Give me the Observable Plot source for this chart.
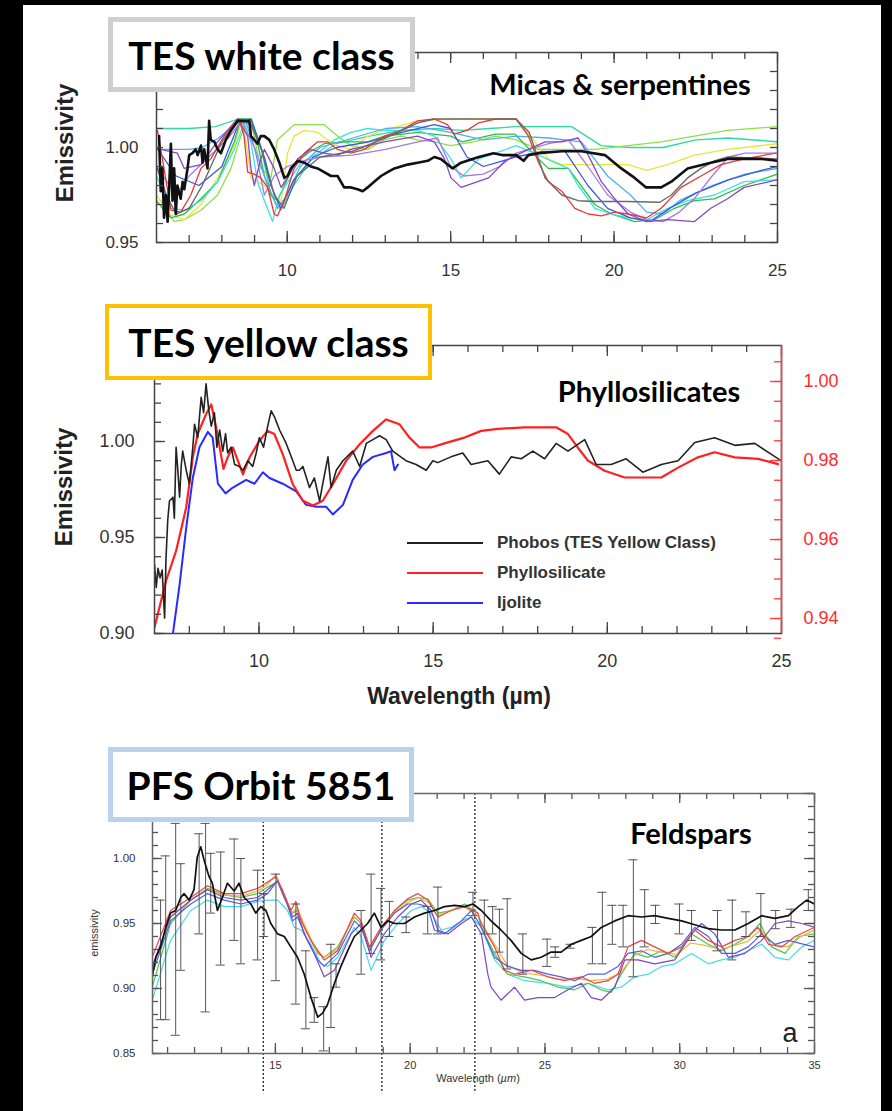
<!DOCTYPE html>
<html><head><meta charset="utf-8">
<script src="https://cdn.jsdelivr.net/npm/d3@7"></script>
<script src="https://cdn.jsdelivr.net/npm/@observablehq/plot@0.6"></script>
<style>
html,body{margin:0;padding:0;}
body{background:#000;width:892px;height:1111px;overflow:hidden;position:relative;font-family:"Liberation Sans",Arial,sans-serif;}
#sheet{position:absolute;left:23px;top:5px;width:858px;height:1106px;background:#fff;}
.panel{position:absolute;left:0;}
.panel svg{display:block;overflow:visible;}
.box{position:absolute;background:#fff;display:flex;align-items:center;justify-content:center;font-family:Lato,"Open Sans",sans-serif;font-weight:700;font-size:39px;color:#000;box-sizing:border-box;white-space:nowrap;}
.note{position:absolute;font-family:Lato,"Open Sans",sans-serif;font-weight:700;color:#000;white-space:nowrap;transform:translate(-50%,-50%);}
.ylab{position:absolute;font-weight:700;font-size:24px;color:#222;white-space:nowrap;transform:translate(-50%,-50%) rotate(-90deg);}
.xlab{position:absolute;font-weight:700;font-size:23px;color:#222;white-space:nowrap;transform:translate(-50%,-50%);}
.leg{position:absolute;font-weight:700;font-size:17px;color:#333;white-space:nowrap;}
.legline{position:absolute;height:0;width:76px;}
</style></head>
<body>
<div id="sheet"></div>
<div id="p1" class="panel" style="top:0px"></div>
<div id="p2" class="panel" style="top:290px"></div>
<div id="p3" class="panel" style="top:720px"></div>

<div class="box" style="left:108px;top:17px;width:307px;height:75px;border:5px solid #cfcfcf;">TES white class</div>
<div class="box" style="left:105px;top:304px;width:327px;height:76px;border:4px solid #ffc000;">TES yellow class</div>
<div class="box" style="left:108px;top:747px;width:306px;height:75px;border:5px solid #b9d3ec;">PFS Orbit 5851</div>

<div class="note" style="left:620px;top:83px;font-size:29px;">Micas &amp; serpentines</div>
<div class="note" style="left:649px;top:390px;font-size:29px;">Phyllosilicates</div>
<div class="note" style="left:691px;top:832px;font-size:29px;">Feldspars</div>

<div class="ylab" style="left:65px;top:143px;">Emissivity</div>
<div class="ylab" style="left:64px;top:487px;">Emissivity</div>
<div class="xlab" style="left:459px;top:696px;">Wavelength (µm)</div>
<div class="ylab" style="left:94px;top:933px;font-size:11px;font-weight:400;color:#333;">emissivity</div>
<div class="xlab" style="left:478px;top:1078px;font-size:11px;font-weight:400;color:#333;">Wavelength (<i>µm</i>)</div>
<div class="xlab" style="left:790px;top:1033px;font-size:27px;font-weight:400;color:#222;">a</div>

<div class="legline" style="left:407px;top:542px;border-top:2.5px solid #222;"></div>
<div class="legline" style="left:407px;top:572px;border-top:2.5px solid #ff2020;"></div>
<div class="legline" style="left:407px;top:602px;border-top:2.5px solid #2a2aff;"></div>
<div class="leg" style="left:497px;top:533px;">Phobos (TES Yellow Class)</div>
<div class="leg" style="left:497px;top:563px;">Phyllosilicate</div>
<div class="leg" style="left:497px;top:593px;">Ijolite</div>

<script>
// ---------------- Panel 1 : TES white class (micas & serpentines) ----------------
const p1XTicks = [10, 15, 20, 25];
const p1YTicks = [0.95, 1.00];
const whiteBlack = [[6.08,1.006],[6.13,0.977],[6.18,0.989],[6.23,0.963],[6.29,0.975],[6.34,0.961],[6.39,0.980],[6.44,1.002],[6.49,0.972],[6.54,0.989],[6.59,0.965],[6.64,0.980],[6.74,0.973],[6.80,0.982],[6.85,0.978],[6.95,0.989],[7.0,0.996],[7.1,0.997],[7.2,0.999],[7.26,0.996],[7.36,1.001],[7.41,0.992],[7.46,0.999],[7.56,0.989],[7.61,1.014],[7.66,1.004],[7.77,1.003],[7.87,0.999],[7.97,0.997],[8.12,1.004],[8.28,1.009],[8.48,1.014],[8.68,1.014],[8.84,1.014],[8.89,1.006],[8.99,1.004],[9.09,1.002],[9.19,1.006],[9.30,1.006],[9.45,1.004],[9.60,0.999],[9.76,0.992],[9.91,0.984],[10.01,0.985],[10.11,0.989],[10.32,0.993],[10.52,0.992],[10.72,0.990],[10.93,0.989],[11.13,0.987],[11.34,0.985],[11.54,0.985],[11.74,0.979],[11.95,0.979],[12.15,0.978],[12.31,0.977],[12.46,0.979],[12.66,0.982],[12.87,0.985],[13.07,0.987],[13.28,0.989],[13.48,0.990],[13.68,0.991],[13.99,0.992],[14.30,0.993],[14.5,0.995],[14.70,0.994],[14.91,0.991],[15.06,0.989],[15.32,0.992],[15.86,0.995],[16.31,0.997],[16.57,0.996],[17.0,0.996],[17.23,0.993],[17.38,0.996],[17.69,0.997],[18.40,0.998],[19.0,0.998],[19.72,0.996],[20.22,0.989],[20.63,0.984],[20.98,0.979],[21.44,0.979],[21.75,0.982],[22.25,0.989],[22.96,0.992],[23.47,0.994],[24.49,0.994],[25.0,0.993]];
const whiteGrey = [[6.0,0.990],[6.3,0.975],[6.6,0.965],[7.0,0.968],[7.4,0.980],[8.0,1.003],[8.5,1.015],[8.9,1.012],[9.3,0.995],[9.6,0.975],[9.9,0.968],[10.3,0.985],[11.0,0.995],[12.0,0.998],[13.0,1.005],[14.0,1.013],[14.5,1.015],[15.0,1.015],[16.0,1.015],[17.0,1.015],[17.4,1.008],[17.89,0.984],[18.4,0.975],[18.9,0.972],[19.4,0.9716],[20.4,0.9716],[21.4,0.9712],[21.75,0.975],[22.25,0.984],[22.66,0.989],[23.07,0.993],[23.47,0.995],[25.0,0.994]];
const whiteRed = [[6.03,1.009],[6.23,0.989],[6.44,0.967],[6.74,0.966],[7.05,0.975],[7.36,0.989],[7.66,0.994],[8.07,1.006],[8.38,1.013],[8.53,1.015],[8.68,1.006],[8.79,0.987],[8.99,0.986],[9.19,0.984],[9.40,0.979],[9.60,0.965],[9.70,0.964],[9.91,0.972],[10.21,0.989],[10.52,0.997],[10.93,1.003],[11.23,1.003],[11.54,0.999],[11.95,0.997],[12.36,0.999],[12.97,1.006],[13.48,1.009],[13.99,1.014],[14.5,1.015],[14.9,1.012],[15.1,1.007],[15.5,1.009],[15.86,1.013],[16.37,1.015],[17.0,1.015],[17.38,1.006],[17.69,0.992],[17.99,0.982],[18.40,0.977],[18.80,0.968],[19.21,0.965],[19.61,0.964],[20.02,0.966],[20.43,0.965],[21.0,0.963],[21.44,0.968],[22.05,0.979],[22.66,0.985],[23.27,0.991],[23.98,0.994],[24.94,0.997]];
const whiteYellow = [[6.0,0.975],[6.4,0.965],[6.85,0.962],[7.36,0.970],[7.87,0.984],[8.38,1.001],[8.63,1.015],[8.79,0.997],[8.89,0.984],[9.30,0.980],[9.50,0.975],[9.81,0.972],[9.91,0.984],[10.01,0.997],[10.21,1.006],[10.52,1.009],[10.93,1.008],[11.23,1.004],[11.54,1.001],[11.95,0.999],[12.46,1.006],[12.97,1.009],[13.99,1.014],[15.01,1.015],[16.0,1.015],[17.0,1.015],[17.58,1.003],[17.99,0.994],[18.40,0.991],[19.41,0.991],[20.43,0.991],[21.0,0.988],[21.64,0.991],[22.46,0.996],[23.47,0.999],[25.0,1.002]];
const whiteLime = [[6.13,0.972],[6.54,0.961],[6.85,0.962],[7.36,0.967],[7.87,0.975],[8.28,0.989],[8.58,1.006],[8.84,1.015],[8.99,1.006],[9.19,0.989],[9.5,0.984],[9.70,1.004],[10.21,1.012],[10.72,1.012],[11.13,1.012],[11.54,1.006],[11.95,1.001],[12.46,0.999],[12.97,1.004],[13.48,1.006],[13.99,1.004],[14.5,1.003],[15.0,1.001],[15.7,1.003],[16.37,1.006],[17.0,1.004],[17.69,0.999],[18.4,0.999],[19.41,0.999],[20.43,1.001],[21.44,1.003],[22.46,1.006],[23.47,1.009],[25.0,1.011]];
const whiteGreen = [[6.0,0.972],[6.23,0.967],[6.44,0.963],[6.85,0.965],[7.36,0.973],[7.87,0.982],[8.38,1.003],[8.58,1.015],[8.89,1.015],[9.09,1.003],[9.30,0.985],[9.50,0.975],[9.70,0.972],[9.91,0.980],[10.21,0.991],[10.62,0.997],[11.13,1.002],[11.74,1.003],[12.46,1.003],[12.97,1.006],[13.99,1.008],[15.01,1.006],[15.35,1.003],[16.37,1.007],[16.97,1.007],[17.69,0.994],[17.99,0.989],[18.6,0.989],[18.9,0.982],[19.41,0.970],[19.92,0.965],[20.63,0.961],[21.24,0.962],[21.85,0.968],[22.46,0.972],[23.07,0.973],[23.98,0.980],[25.0,0.986]];
const whiteCyan = [[6.0,0.985],[6.44,0.968],[6.85,0.967],[7.36,0.972],[7.87,0.982],[8.38,0.999],[8.68,1.013],[8.89,1.003],[9.09,0.982],[9.30,0.972],[9.55,0.961],[9.76,0.975],[9.91,0.979],[10.11,0.984],[10.42,0.992],[10.93,0.997],[11.44,1.004],[11.95,1.008],[12.46,1.010],[12.97,1.009],[13.99,1.009],[14.5,1.006],[15.01,0.994],[15.32,0.984],[15.86,0.994],[16.37,0.997],[17.0,1.001],[17.69,0.996],[18.19,0.992],[18.6,0.989],[18.9,0.980],[19.41,0.968],[19.92,0.965],[20.43,0.963],[21.0,0.962],[21.64,0.968],[22.25,0.972],[23.07,0.975],[23.98,0.982],[25.0,0.983]];
const whiteTeal = [[6.0,1.010],[7.0,1.010],[7.8,1.011],[8.5,1.015],[8.9,1.014],[9.2,1.000],[9.5,0.975],[9.8,0.967],[10.2,0.980],[10.7,0.993],[11.5,1.002],[12.5,1.006],[13.5,1.009],[14.5,1.010],[15.35,1.009],[16.2,1.010],[17.0,1.011],[18.7,1.011],[19.6,1.001],[20.5,1.000],[21.5,1.000],[22.5,1.004],[23.5,1.005],[25.0,1.003]];
const whiteSky = [[6.0,0.999],[7.0,0.999],[7.4,1.000],[7.9,1.005],[8.4,1.012],[8.7,1.015],[9.0,1.000],[9.3,0.985],[9.7,0.968],[10.0,0.975],[10.4,0.990],[11.0,1.000],[12.0,1.005],[13.0,1.010],[14.0,1.011],[15.0,1.008],[16.0,1.004],[17.0,1.006],[18.0,1.005],[19.0,1.003],[19.8,0.985],[20.5,0.975],[21.0,0.966],[21.5,0.965],[22.0,0.972],[23.0,0.980],[24.0,0.986],[25.0,0.989]];
const whiteBlue = [[6.0,1.000],[6.6,0.985],[7.3,0.980],[8.0,0.990],[8.5,1.012],[8.9,1.015],[9.2,1.000],[9.5,0.980],[9.8,0.968],[10.2,0.983],[10.8,0.995],[11.5,1.000],[12.5,1.003],[13.5,1.008],[14.5,1.012],[15.0,1.010],[15.5,0.995],[16.0,0.990],[17.0,0.995],[17.8,0.998],[18.5,0.998],[19.2,0.980],[19.8,0.968],[20.5,0.963],[21.1,0.961],[21.7,0.968],[22.5,0.976],[23.5,0.983],[24.5,0.988],[25.0,0.990]];
const whiteViolet = [[6.13,0.999],[6.64,0.997],[6.85,0.989],[7.36,0.991],[7.77,1.001],[8.17,1.009],[8.48,1.015],[8.79,1.006],[8.89,0.989],[8.99,0.980],[9.19,0.994],[9.30,0.999],[9.60,0.989],[9.81,0.979],[10.01,0.984],[10.32,0.994],[10.72,0.999],[11.13,0.997],[11.54,0.996],[11.95,0.999],[12.46,1.001],[12.97,1.003],[13.99,1.006],[14.5,1.003],[14.81,0.994],[15.01,0.984],[15.32,0.979],[16.16,0.984],[16.67,0.993],[17.38,0.999],[17.89,1.003],[18.40,1.003],[18.9,1.005],[19.21,0.996],[19.61,0.982],[20.02,0.973],[20.43,0.965],[21.0,0.961],[21.64,0.962],[22.46,0.961],[22.96,0.968],[23.47,0.973],[23.98,0.979],[25.0,0.983]];
const whitePurple = [[6.0,0.990],[6.6,0.975],[7.0,0.985],[7.6,0.995],[8.2,1.005],[8.6,1.014],[9.0,1.000],[9.3,0.975],[9.6,0.985],[10.0,0.990],[10.5,0.993],[11.0,0.995],[12.0,0.996],[13.0,0.999],[14.0,1.003],[14.6,1.005],[15.0,0.990],[15.4,0.985],[16.0,0.986],[16.5,0.990],[17.0,0.997],[18.0,1.002],[18.6,1.004],[19.2,0.990],[19.8,0.975],[20.5,0.966],[21.0,0.962],[21.5,0.961],[22.0,0.966],[22.5,0.974],[23.0,0.985],[23.5,0.995],[24.0,0.997],[25.0,0.997]];

// ---------------- Panel 2 : TES yellow class (phyllosilicates) ----------------
const p2XTicks = [10, 15, 20, 25];
const p2YTicks = [0.90, 0.95, 1.00];
const p2RedTicks = [0.94, 0.96, 0.98, 1.00];
const yellowPhobos = [[7.0,0.936],[7.05,0.924],[7.1,0.934],[7.16,0.929],[7.22,0.933],[7.29,0.908],[7.33,0.939],[7.38,0.959],[7.43,0.969],[7.53,0.971],[7.57,0.960],[7.62,0.997],[7.67,0.985],[7.72,0.971],[7.77,0.988],[7.81,0.995],[7.91,0.985],[8.0,0.978],[8.1,0.997],[8.15,1.009],[8.24,1.002],[8.34,1.023],[8.41,1.015],[8.48,1.030],[8.56,1.016],[8.63,1.008],[8.72,1.015],[8.79,0.997],[8.87,1.006],[8.96,0.995],[9.04,1.004],[9.1,0.994],[9.2,0.997],[9.3,0.988],[9.44,0.987],[9.54,0.985],[9.68,0.990],[9.82,0.987],[9.92,0.994],[10.01,1.002],[10.13,0.997],[10.25,1.008],[10.35,1.016],[10.44,1.013],[10.59,1.006],[10.78,0.999],[10.97,0.990],[11.07,0.985],[11.16,0.985],[11.26,0.987],[11.45,0.976],[11.59,0.981],[11.74,0.969],[11.83,0.978],[11.98,0.992],[12.07,0.976],[12.22,0.985],[12.41,0.990],[12.69,0.995],[12.89,0.987],[13.08,0.999],[13.27,1.001],[13.46,1.003],[13.65,1.001],[13.84,0.995],[14.22,0.990],[14.51,0.988],[14.8,0.985],[14.99,0.990],[15.13,0.989],[15.51,0.992],[15.85,0.994],[16.09,0.988],[16.57,0.990],[16.9,0.983],[17.24,0.992],[17.53,0.991],[17.86,0.995],[18.2,0.991],[18.53,0.999],[18.87,0.995],[19.35,1.001],[19.68,0.988],[20.11,0.988],[20.54,0.991],[21.02,0.984],[21.55,0.988],[22.03,0.990],[22.51,0.9995],[23.08,1.002],[23.66,0.998],[24.23,0.999],[24.99,0.990]];
// red curve: values on the right-hand (red) axis
const yellowPhyllo = [[7.0,0.9377],[7.33,0.9495],[7.62,0.9571],[7.91,0.9681],[8.1,0.9808],[8.24,0.9867],[8.48,0.9917],[8.63,0.9942],[8.77,0.9884],[8.98,0.9779],[9.1,0.9808],[9.25,0.9833],[9.54,0.9765],[9.73,0.9808],[10.01,0.9850],[10.25,0.9875],[10.44,0.9867],[10.68,0.9816],[10.97,0.9740],[11.26,0.9698],[11.55,0.9686],[11.83,0.9698],[12.12,0.9740],[12.5,0.9799],[12.89,0.9841],[13.27,0.9875],[13.65,0.9904],[14.03,0.9892],[14.32,0.9858],[14.61,0.9833],[14.94,0.9833],[15.42,0.9846],[15.9,0.9858],[16.38,0.9875],[16.86,0.9880],[17.62,0.9884],[18.53,0.9884],[18.87,0.9867],[19.15,0.9833],[19.44,0.9800],[19.92,0.9774],[20.5,0.9757],[21.55,0.9757],[22.03,0.9782],[22.6,0.9808],[23.08,0.9821],[23.66,0.9808],[24.33,0.9804],[24.9,0.9791]];
const yellowIjolite = [[7.53,0.900],[7.72,0.9255],[7.91,0.955],[8.1,0.981],[8.29,0.997],[8.53,1.005],[8.67,1.002],[8.82,0.978],[9.04,0.973],[9.25,0.976],[9.63,0.980],[9.87,0.978],[10.11,0.984],[10.3,0.981],[10.68,0.978],[11.07,0.974],[11.35,0.967],[11.64,0.966],[11.93,0.966],[12.12,0.962],[12.41,0.967],[12.69,0.980],[12.98,0.988],[13.27,0.992],[13.65,0.994],[13.79,0.995],[13.89,0.985],[13.99,0.988]];

// ---------------- Panel 3 : PFS orbit 5851 (feldspars) ----------------
const p3XTicks = [15, 20, 25, 30, 35];
const p3YTicks = [0.85, 0.90, 0.95, 1.00];
const p3Dashed = [14.55, 18.95, 22.4];
const pfsBlack = [[10.43,0.909],[10.56,0.924],[10.74,0.932],[10.93,0.947],[11.11,0.958],[11.3,0.960],[11.49,0.970],[11.61,0.973],[11.8,0.968],[11.98,0.976],[12.1,1.001],[12.23,1.009],[12.35,0.999],[12.54,0.986],[12.66,0.981],[12.85,0.960],[13.03,0.970],[13.22,0.981],[13.47,0.975],[13.65,0.981],[13.84,0.970],[14.09,0.965],[14.27,0.958],[14.46,0.963],[14.65,0.960],[14.83,0.950],[15.08,0.942],[15.33,0.940],[15.57,0.932],[15.82,0.924],[16.07,0.911],[16.32,0.893],[16.57,0.878],[16.75,0.881],[16.94,0.888],[17.19,0.904],[17.43,0.917],[17.68,0.929],[17.93,0.940],[18.18,0.945],[18.42,0.950],[18.67,0.958],[18.92,0.947],[19.17,0.952],[19.42,0.950],[19.79,0.950],[20.16,0.955],[20.53,0.958],[20.9,0.960],[21.27,0.963],[21.65,0.964],[22.02,0.963],[22.33,0.965],[22.64,0.960],[23.0,0.952],[23.37,0.945],[23.74,0.937],[24.12,0.927],[24.49,0.922],[24.86,0.924],[25.23,0.928],[25.6,0.928],[25.98,0.934],[26.35,0.937],[26.72,0.940],[27.09,0.947],[27.59,0.952],[28.08,0.956],[28.58,0.955],[29.07,0.956],[29.57,0.954],[30.07,0.952],[30.56,0.949],[31.06,0.946],[31.55,0.945],[32.05,0.945],[32.54,0.950],[33.04,0.956],[33.53,0.954],[34.03,0.956],[34.4,0.963],[34.71,0.968],[35.0,0.965]];
// error bars: [wavelength, low, high]
const pfsErr = [[10.74,0.876,0.968],[10.93,0.876,1.002],[11.3,0.864,1.027],[11.49,0.914,0.996],[12.17,0.942,1.019],[12.41,0.882,1.027],[12.6,0.958,1.004],[12.97,0.918,1.005],[13.47,0.937,1.015],[13.72,0.919,1.000],[14.34,0.922,0.991],[14.58,0.940,0.973],[15.02,0.906,0.988],[15.76,0.888,0.965],[16.13,0.869,0.929],[16.44,0.874,0.893],[16.79,0.852,0.886],[17.06,0.870,0.934],[17.25,0.901,0.919],[18.18,0.911,0.960],[18.55,0.927,0.988],[18.92,0.922,0.977],[19.23,0.940,0.967],[19.85,0.943,0.955],[20.65,0.942,0.963],[21.03,0.942,0.978],[22.33,0.956,0.974],[22.75,0.942,0.968],[23.06,0.942,0.963],[23.31,0.928,0.961],[23.6,0.915,0.969],[24.18,0.911,0.942],[25.08,0.917,0.938],[25.38,0.924,0.932],[25.95,0.931,0.934],[26.76,0.919,0.947],[27.13,0.919,0.974],[27.5,0.934,0.964],[27.9,0.932,0.964],[28.28,0.909,0.999],[28.7,0.932,0.976],[29.1,0.950,0.964],[29.99,0.942,0.965],[30.44,0.937,0.960],[31.4,0.929,0.960],[31.95,0.922,0.968],[32.46,0.940,0.959],[33.01,0.940,0.973],[33.56,0.946,0.960],[34.13,0.947,0.961],[34.77,0.960,0.976]];
const pfsRed = [[10.43,0.924],[11.11,0.960],[11.86,0.970],[12.48,0.979],[13.1,0.973],[13.72,0.973],[14.34,0.977],[14.71,0.982],[15.02,0.986],[15.26,0.976],[15.57,0.960],[15.76,0.967],[15.95,0.952],[16.32,0.937],[16.81,0.922],[17.31,0.929],[17.93,0.958],[18.18,0.952],[18.49,0.932],[18.92,0.947],[19.42,0.960],[19.91,0.969],[20.28,0.973],[20.65,0.968],[21.03,0.955],[21.52,0.960],[22.02,0.963],[22.51,0.958],[22.63,0.950],[23.13,0.932],[23.5,0.914],[23.87,0.911],[24.49,0.914],[25.11,0.909],[25.73,0.906],[26.35,0.909],[26.84,0.904],[27.34,0.906],[27.71,0.911],[28.08,0.932],[28.58,0.937],[29.07,0.932],[29.57,0.927],[30.07,0.932],[30.56,0.945],[31.06,0.937],[31.55,0.932],[32.05,0.937],[32.54,0.940],[32.91,0.947],[33.29,0.934],[33.78,0.932],[34.28,0.940],[35.0,0.947]];
const pfsOrange = [[10.43,0.915],[11.11,0.955],[11.86,0.968],[12.48,0.976],[13.1,0.972],[13.72,0.971],[14.34,0.975],[14.71,0.980],[15.02,0.988],[15.3,0.972],[15.6,0.958],[15.8,0.962],[16.1,0.948],[16.5,0.930],[16.8,0.924],[17.3,0.930],[17.9,0.955],[18.2,0.950],[18.5,0.930],[18.9,0.946],[19.4,0.958],[19.9,0.966],[20.3,0.970],[20.7,0.966],[21.0,0.956],[21.5,0.960],[22.0,0.963],[22.5,0.956],[23.1,0.935],[23.6,0.918],[24.2,0.912],[24.9,0.910],[25.5,0.907],[26.1,0.908],[26.7,0.906],[27.3,0.907],[27.8,0.912],[28.3,0.925],[28.8,0.930],[29.3,0.928],[29.9,0.926],[30.4,0.935],[31.0,0.933],[31.5,0.930],[32.0,0.933],[32.5,0.936],[33.0,0.945],[33.5,0.934],[34.0,0.932],[34.5,0.940],[35.0,0.945]];
const pfsGreen = [[10.43,0.901],[11.11,0.950],[11.86,0.968],[12.48,0.977],[13.1,0.972],[13.72,0.970],[14.34,0.973],[14.71,0.978],[15.08,0.982],[15.33,0.970],[15.64,0.958],[15.82,0.960],[16.19,0.942],[16.57,0.927],[16.81,0.924],[17.31,0.932],[17.93,0.955],[18.18,0.950],[18.49,0.929],[18.92,0.947],[19.42,0.960],[19.91,0.968],[20.28,0.970],[20.65,0.969],[21.03,0.958],[21.52,0.960],[22.02,0.965],[22.51,0.958],[22.63,0.947],[23.13,0.927],[23.62,0.911],[24.24,0.909],[24.86,0.906],[25.48,0.901],[26.1,0.899],[26.6,0.904],[27.09,0.899],[27.46,0.897],[27.83,0.911],[28.33,0.927],[28.83,0.924],[29.32,0.929],[29.82,0.924],[30.44,0.942],[31.06,0.934],[31.55,0.929],[32.05,0.934],[32.54,0.940],[32.98,0.950],[33.41,0.932],[33.91,0.927],[34.4,0.940],[35.0,0.942]];
const pfsCyan = [[10.43,0.891],[11.11,0.937],[11.86,0.960],[12.48,0.968],[13.1,0.963],[13.72,0.963],[14.34,0.967],[14.71,0.968],[15.08,0.968],[15.45,0.960],[15.7,0.947],[15.95,0.945],[16.32,0.934],[16.69,0.919],[16.94,0.917],[17.31,0.924],[17.93,0.947],[18.18,0.940],[18.55,0.914],[19.04,0.937],[19.54,0.950],[20.04,0.960],[20.41,0.963],[20.78,0.958],[21.15,0.945],[21.52,0.947],[21.9,0.952],[22.27,0.955],[22.64,0.947],[23.13,0.922],[23.62,0.911],[24.24,0.906],[25.11,0.904],[25.85,0.901],[26.6,0.904],[27.34,0.899],[27.83,0.901],[28.33,0.909],[28.83,0.911],[29.32,0.917],[29.82,0.919],[30.44,0.927],[31.06,0.919],[31.55,0.922],[32.05,0.924],[32.54,0.929],[33.04,0.934],[33.53,0.924],[34.03,0.922],[34.53,0.932],[35.0,0.937]];
const pfsBlue = [[10.43,0.911],[11.11,0.952],[11.86,0.965],[12.48,0.973],[13.1,0.968],[13.72,0.965],[14.34,0.968],[14.71,0.973],[15.08,0.983],[15.39,0.968],[15.64,0.952],[15.82,0.955],[16.19,0.937],[16.57,0.922],[16.81,0.917],[17.31,0.927],[17.93,0.952],[18.18,0.947],[18.49,0.929],[18.92,0.945],[19.42,0.958],[19.91,0.965],[20.28,0.965],[20.65,0.963],[20.9,0.945],[21.27,0.942],[21.9,0.952],[22.27,0.960],[22.64,0.947],[23.13,0.924],[23.62,0.917],[24.12,0.914],[24.61,0.914],[25.11,0.911],[25.6,0.909],[26.1,0.906],[26.6,0.911],[27.21,0.911],[27.71,0.917],[28.08,0.927],[28.58,0.929],[29.07,0.924],[29.57,0.927],[30.07,0.934],[30.56,0.947],[31.06,0.940],[31.55,0.927],[32.05,0.927],[32.54,0.932],[33.04,0.942],[33.53,0.934],[34.03,0.937],[35.0,0.932]];
const pfsViolet = [[10.43,0.917],[11.11,0.955],[11.86,0.968],[12.48,0.976],[13.1,0.970],[13.72,0.968],[14.34,0.970],[14.71,0.976],[15.08,0.983],[15.33,0.970],[15.64,0.955],[15.82,0.958],[16.07,0.942],[16.44,0.927],[16.81,0.909],[17.19,0.914],[17.81,0.942],[18.18,0.950],[18.55,0.924],[19.04,0.942],[19.54,0.955],[20.04,0.965],[20.41,0.968],[20.78,0.960],[21.03,0.945],[21.4,0.942],[21.9,0.950],[22.27,0.955],[22.64,0.942],[22.88,0.911],[23.0,0.901],[23.37,0.891],[23.62,0.896],[23.87,0.901],[24.24,0.891],[24.74,0.893],[25.36,0.893],[25.85,0.899],[26.35,0.904],[26.72,0.893],[27.09,0.891],[27.59,0.901],[27.96,0.922],[28.45,0.922],[29.07,0.919],[29.82,0.922],[30.44,0.942],[30.81,0.950],[31.3,0.942],[31.8,0.924],[32.42,0.927],[33.04,0.937],[33.53,0.950],[34.03,0.952],[34.53,0.950],[35.0,0.947]];

// ---------------- helpers ----------------
const W = 892;
const rng = (a, b, s) => d3.range(Math.round(a / s), Math.round(b / s) + 1).map(k => +(k * s).toFixed(4));
const lineOf = (pts, stroke, sw = 1.3) => Plot.line(pts, {x: d => d[0], y: d => d[1], stroke, strokeWidth: sw, clip: true, strokeLinejoin: "round"});
// inward-pointing frame ticks, drawn as short rules; lengths given in pixels
function frameTicks(xd, yd, innerW, innerH) {
  const kx = (xd[1] - xd[0]) / innerW, ky = (yd[1] - yd[0]) / innerH, sw = 1.3;
  return {
    bottom: (vals, len, stroke) => Plot.ruleX(vals, {x: d => d, y1: yd[0], y2: yd[0] + len * ky, stroke, strokeWidth: sw}),
    top: (vals, len, stroke) => Plot.ruleX(vals, {x: d => d, y1: yd[1] - len * ky, y2: yd[1], stroke, strokeWidth: sw}),
    left: (vals, len, stroke) => Plot.ruleY(vals, {y: d => d, x1: xd[0], x2: xd[0] + len * kx, stroke, strokeWidth: sw}),
    right: (vals, len, stroke) => Plot.ruleY(vals, {y: d => d, x1: xd[1] - len * kx, x2: xd[1], stroke, strokeWidth: sw})
  };
}

// ---------------- panel 1 ----------------
{
  const H = 300, mt = 52, mb = 58, ml = 156, mr = W - 777;
  const innerW = W - ml - mr, innerH = H - mt - mb;
  const xd = [6, 25], yd = [0.95, 1.05];
  const f = frameTicks(xd, yd, innerW, innerH), c = "#444";
  const xMin = rng(7, 24, 1), yMin = rng(0.95, 1.05, 0.01);
  const plot = Plot.plot({
    width: W, height: H, marginTop: mt, marginBottom: mb, marginLeft: ml, marginRight: mr,
    x: {domain: xd}, y: {domain: yd},
    style: {fontFamily: "Liberation Sans, Arial, sans-serif", background: "transparent"},
    marks: [
      Plot.axisX({ticks: p1XTicks, tickSize: 0, tickPadding: 21, fontSize: 17, label: null, fill: "#333"}),
      Plot.axisY({ticks: p1YTicks, tickSize: 0, tickPadding: 18, fontSize: 17, label: null, fill: "#333", tickFormat: d3.format(".2f")}),
      lineOf(whiteTeal, "#2fd8a0"),
      lineOf(whiteLime, "#8ee04a"),
      lineOf(whiteYellow, "#e8e63a"),
      lineOf(whiteGreen, "#28c040"),
      lineOf(whiteCyan, "#3fe0e6"),
      lineOf(whiteSky, "#52aef2"),
      lineOf(whiteBlue, "#3a56e0"),
      lineOf(whitePurple, "#a77ae0"),
      lineOf(whiteViolet, "#8346cc"),
      lineOf(whiteRed, "#e8383a"),
      lineOf(whiteGrey, "#6a6a6a", 1.4),
      lineOf(whiteBlack, "#111", 2.6),
      f.bottom(xMin, 7, c), f.bottom(p1XTicks, 11, c),
      f.top(xMin, 7, c), f.top(p1XTicks, 11, c),
      f.left(yMin, 7, c), f.right(yMin, 7, c),
      Plot.frame({stroke: "#444", strokeWidth: 1.5})
    ]
  });
  document.getElementById("p1").append(plot);
}

// ---------------- panel 2 ----------------
{
  const H = 430, mt = 55, mb = 87, ml = 154, mr = W - 781;
  const innerW = W - ml - mr, innerH = H - mt - mb;
  const xd = [7, 25], yd = [0.90, 1.05];
  const red = d3.scaleLinear().domain([0.94, 1.00]).range([0.9078, 1.03125]);
  const phylloLeft = yellowPhyllo.map(([w, v]) => [w, red(v)]);
  const f = frameTicks(xd, yd, innerW, innerH), c = "#444", rc = "#ff3b3b";
  const xMin = rng(8, 24, 1), yMin = rng(0.90, 1.05, 0.01);
  const plot = Plot.plot({
    width: W, height: H, marginTop: mt, marginBottom: mb, marginLeft: ml, marginRight: mr,
    x: {domain: xd}, y: {domain: yd},
    style: {fontFamily: "Liberation Sans, Arial, sans-serif", background: "transparent"},
    marks: [
      Plot.axisX({ticks: p2XTicks, tickSize: 0, tickPadding: 21, fontSize: 18, label: null, fill: "#333"}),
      Plot.axisY({ticks: p2YTicks, tickSize: 0, tickPadding: 20, fontSize: 18, label: null, fill: "#333", tickFormat: d3.format(".2f")}),
      Plot.axisY({anchor: "right", ticks: p2RedTicks.map(red), tickSize: 0, tickPadding: 22, fontSize: 18, label: null, fill: "#ff2b2b", tickFormat: d => red.invert(d).toFixed(2)}),
      lineOf(yellowIjolite, "#2a2aff", 2),
      lineOf(phylloLeft, "#ff2020", 2.2),
      lineOf(yellowPhobos, "#222", 1.6),
      f.bottom(xMin, 7, c), f.bottom(p2XTicks, 11, c),
      f.top(xMin, 7, c), f.top(p2XTicks, 11, c),
      f.left(yMin, 7, c), f.left([0.90, 0.95, 1.00, 1.05], 11, c),
      f.right(rng(0.935, 1.005, 0.005).map(red), 7, rc), f.right(p2RedTicks.map(red), 11, rc),
      Plot.frame({stroke: "#444", strokeWidth: 1.5}),
      Plot.ruleX([25], {stroke: "#ff4040", strokeWidth: 1.5})
    ]
  });
  document.getElementById("p2").append(plot);
}

// ---------------- panel 3 ----------------
{
  const H = 391, mt = 73, mb = 58, ml = 152, mr = W - 814;
  const innerW = W - ml - mr, innerH = H - mt - mb;
  const xd = [10.44, 35], yd = [0.85, 1.05];
  const f = frameTicks(xd, yd, innerW, innerH), c = "#555";
  const xMin = rng(11, 34, 1), yMin = rng(0.85, 1.05, 0.01), yMaj = [0.85, 0.90, 0.95, 1.00, 1.05];
  const cap = 0.17;
  const plot = Plot.plot({
    width: W, height: H, marginTop: mt, marginBottom: mb, marginLeft: ml, marginRight: mr,
    x: {domain: xd}, y: {domain: yd},
    style: {fontFamily: "Liberation Sans, Arial, sans-serif", background: "transparent"},
    marks: [
      Plot.axisX({ticks: p3XTicks, tickSize: 0, tickPadding: 8, fontSize: 11, label: null, fill: "#333"}),
      Plot.axisY({ticks: p3YTicks, tickSize: 0, tickPadding: 17, fontSize: 11.5, label: null, fill: "#333", tickFormat: d3.format(".2f")}),
      Plot.ruleX(p3Dashed, {x: d => d, y1: 1.05, y2: 0.819, stroke: "#222", strokeWidth: 1.3, strokeDasharray: "2,2"}),
      lineOf(pfsCyan, "#45dce8", 1.2),
      lineOf(pfsGreen, "#4cc84c", 1.2),
      lineOf(pfsOrange, "#f0b43a", 1.2),
      lineOf(pfsBlue, "#4a62e4", 1.2),
      lineOf(pfsViolet, "#7a48c8", 1.2),
      lineOf(pfsRed, "#f04444", 1.2),
      Plot.ruleX(pfsErr, {x: d => d[0], y1: d => d[1], y2: d => d[2], stroke: "#555", strokeWidth: 1, clip: true}),
      Plot.ruleY(pfsErr, {y: d => d[1], x1: d => d[0] - cap, x2: d => d[0] + cap, stroke: "#555", strokeWidth: 1, clip: true}),
      Plot.ruleY(pfsErr, {y: d => d[2], x1: d => d[0] - cap, x2: d => d[0] + cap, stroke: "#555", strokeWidth: 1, clip: true}),
      lineOf(pfsBlack, "#111", 1.7),
      f.bottom(xMin, 6, c), f.bottom(p3XTicks, 10, c),
      f.top(xMin, 6, c), f.top(p3XTicks, 10, c),
      f.left(yMin, 6, c), f.left(yMaj, 10, c),
      f.right(yMin, 6, c), f.right(yMaj, 10, c),
      Plot.frame({stroke: "#666", strokeWidth: 1.5})
    ]
  });
  document.getElementById("p3").append(plot);
}
</script>
</body></html>
